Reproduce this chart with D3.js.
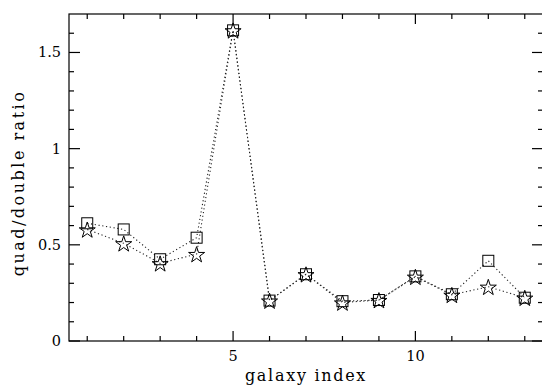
<!DOCTYPE html>
<html>
<head>
<meta charset="utf-8">
<script src="https://cdnjs.cloudflare.com/ajax/libs/d3/7.8.5/d3.min.js"></script>
<style>
  html, body { margin: 0; padding: 0; background: #fff; }
  svg { display: block; }
  text { font-family: "DejaVu Serif", "Liberation Serif", serif; fill: #000; }
</style>
</head>
<body>
<svg id="chart" width="542" height="385"></svg>
<script>
// galaxy index along the x axis
const galaxyIndex = [1, 2, 3, 4, 5, 6, 7, 8, 9, 10, 11, 12, 13];
// quad/double ratio, square-marker series
const ratioSquares = [0.612, 0.58, 0.425, 0.537, 1.615, 0.21, 0.347, 0.207, 0.213, 0.336, 0.243, 0.417, 0.225];
// quad/double ratio, star-marker series
const ratioStars = [0.58, 0.508, 0.404, 0.452, 1.615, 0.21, 0.347, 0.20, 0.213, 0.334, 0.24, 0.282, 0.225];
// labelled ticks
const xTickLabels = [5, 10];
const yTickLabels = [0, 0.5, 1, 1.5];

const svg = d3.select("#chart");
const plotLeft = 69, plotRight = 543, plotTop = 14, plotBottom = 341;

const x = d3.scaleLinear().domain([0.5, 13.5]).range([plotLeft, plotRight]);
const y = d3.scaleLinear().domain([0, 1.7]).range([plotBottom, plotTop]);

const axisG = svg.append("g").attr("stroke", "#000").attr("stroke-width", 1.2).attr("fill", "none");

// frame
axisG.append("rect")
  .attr("x", plotLeft).attr("y", plotTop)
  .attr("width", plotRight - plotLeft).attr("height", plotBottom - plotTop);

// x ticks (bottom and top)
d3.range(1, 14).forEach(v => {
  const len = v % 5 === 0 ? 10 : 5;
  axisG.append("line").attr("x1", x(v)).attr("x2", x(v)).attr("y1", plotBottom).attr("y2", plotBottom - len);
  axisG.append("line").attr("x1", x(v)).attr("x2", x(v)).attr("y1", plotTop).attr("y2", plotTop + len);
});
// y ticks (left and right)
d3.range(0, 17).map(i => i / 10).forEach(v => {
  const len = (Math.round(v * 10) % 5 === 0) ? 11 : 5;
  axisG.append("line").attr("y1", y(v)).attr("y2", y(v)).attr("x1", plotLeft).attr("x2", plotLeft + len);
  axisG.append("line").attr("y1", y(v)).attr("y2", y(v)).attr("x1", plotRight).attr("x2", plotRight - len);
});

// tick labels
svg.append("g").selectAll("text").data(xTickLabels).join("text")
  .attr("x", d => x(d)).attr("y", plotBottom + 20)
  .attr("text-anchor", "middle").attr("font-size", 14.5)
  .text(d => d);
svg.append("g").selectAll("text").data(yTickLabels).join("text")
  .attr("x", plotLeft - 8).attr("y", d => y(d) + 5)
  .attr("text-anchor", "end").attr("font-size", 14.5)
  .text(d => d);

// axis titles
svg.append("text")
  .attr("x", 306).attr("y", 381)
  .attr("text-anchor", "middle").attr("font-size", 16)
  .attr("letter-spacing", 1.7)
  .text("galaxy index");
svg.append("text")
  .attr("transform", "translate(24,183) rotate(-90)")
  .attr("text-anchor", "middle").attr("font-size", 16)
  .attr("letter-spacing", 2.5)
  .text("quad/double ratio");

// dotted connecting lines
const lineFor = vals => d3.line().x((d, i) => x(galaxyIndex[i])).y(d => y(d))(vals);
[ratioSquares, ratioStars].forEach(vals => {
  svg.append("path")
    .attr("d", lineFor(vals))
    .attr("fill", "none").attr("stroke", "#222")
    .attr("stroke-width", 1.1).attr("stroke-dasharray", "1.2,2.6");
});

// square markers
svg.append("g").selectAll("rect").data(ratioSquares).join("rect")
  .attr("x", (d, i) => x(galaxyIndex[i]) - 5.5)
  .attr("y", d => y(d) - 5.5)
  .attr("width", 11).attr("height", 11)
  .attr("fill", "none").attr("stroke", "#000").attr("stroke-width", 1);

// star markers
const star = d3.symbol().type(d3.symbolStar).size(80);
svg.append("g").selectAll("path").data(ratioStars).join("path")
  .attr("transform", (d, i) => `translate(${x(galaxyIndex[i])},${y(d) + 1})`)
  .attr("d", star)
  .attr("fill", "none").attr("stroke", "#000").attr("stroke-width", 1);
</script>
</body>
</html>
